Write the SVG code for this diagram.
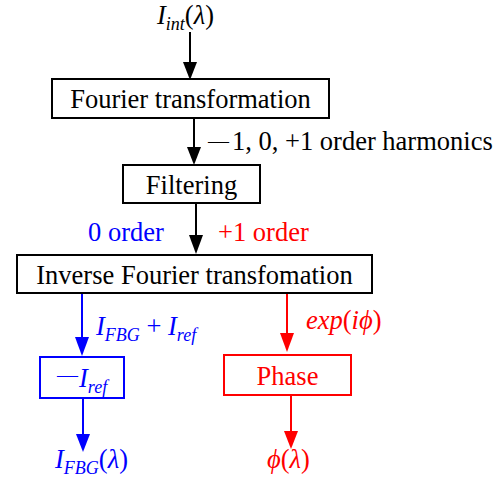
<svg xmlns="http://www.w3.org/2000/svg" width="502" height="479" viewBox="0 0 502 479">
<style>
text{font-family:"Liberation Serif","Times New Roman",serif;font-size:26.5px;}
.i{font-style:italic}
.s{font-size:18px;font-style:italic}
.m{font-size:21px}
.k{fill:none;stroke:#000;stroke-width:2}
.b{fill:none;stroke:#0000ff;stroke-width:2}
.r{fill:none;stroke:#ff0000;stroke-width:2}
.bt{fill:#0000ff}
.rt{fill:#ff0000}
</style>
<rect width="502" height="479" fill="#fff"/>
<g id="connectors">
<line class="k" x1="190" y1="32" x2="190" y2="64"/>
<polygon points="183,62 197,62 190,80"/>
<line class="k" x1="194" y1="118" x2="194" y2="149"/>
<polygon points="187,147 201,147 194,165"/>
<line class="k" x1="196" y1="203" x2="196" y2="237"/>
<polygon points="189,235 203,235 196,254"/>
<line class="b" x1="82" y1="293" x2="82" y2="339"/>
<polygon class="bt" points="75,337 89,337 82,356"/>
<line class="b" x1="83" y1="398" x2="83" y2="436"/>
<polygon class="bt" points="76,434 90,434 83,452"/>
<line class="r" x1="287" y1="293" x2="287" y2="335"/>
<polygon class="rt" points="280,333 294,333 287,352"/>
<line class="r" x1="291" y1="395" x2="291" y2="433"/>
<polygon class="rt" points="284,431 298,431 291,449"/>
</g>
<g id="label-input"><text x="157" y="24"><tspan class="i">I</tspan><tspan class="s" dy="6">int</tspan><tspan dy="-6">(</tspan><tspan class="i">λ</tspan>)</text></g>
<g id="node-fourier">
<rect class="k" x="52" y="79" width="277" height="39"/>
<text x="190.5" y="108" text-anchor="middle">Fourier transformation</text>
</g>
<g id="label-harmonics"><text x="208" y="150"><tspan class="m" dy="-2">—</tspan><tspan dx="3" dy="2">1, 0, +1 order harmonics</tspan></text></g>
<g id="node-filtering">
<rect class="k" x="123" y="165" width="137" height="38"/>
<text x="191.5" y="194" text-anchor="middle">Filtering</text>
</g>
<g id="label-orders">
<text class="bt" x="88" y="241">0 order</text>
<text class="rt" x="218" y="241">+1 order</text>
</g>
<g id="node-inverse">
<rect class="k" x="17" y="255" width="355" height="38"/>
<text x="194.5" y="284" text-anchor="middle">Inverse Fourier transfomation</text>
</g>
<g id="label-sum"><text class="bt" x="96" y="335"><tspan class="i">I</tspan><tspan class="s" dy="6">FBG</tspan><tspan dy="-6"> + </tspan><tspan class="i">I</tspan><tspan class="s" dy="6">ref</tspan></text></g>
<g id="node-minus">
<rect class="b" x="40" y="357" width="84" height="41"/>
<text class="bt" x="57" y="387"><tspan class="m" dy="-5">—</tspan><tspan class="i" dx="1" dy="5">I</tspan><tspan class="s" dy="6">ref</tspan></text>
</g>
<g id="label-ifbg"><text class="bt" x="55" y="468"><tspan class="i">I</tspan><tspan class="s" dy="6">FBG</tspan><tspan dy="-6">(</tspan><tspan class="i">λ</tspan>)</text></g>
<g id="label-exp"><text class="rt" x="306" y="329"><tspan class="i">exp</tspan>(<tspan class="i">iϕ</tspan>)</text></g>
<g id="node-phase">
<rect class="r" x="224" y="355" width="127" height="40"/>
<text class="rt" x="287.5" y="385" text-anchor="middle">Phase</text>
</g>
<g id="label-phi"><text class="rt" x="267" y="468"><tspan class="i">ϕ</tspan>(<tspan class="i">λ</tspan>)</text></g>
</svg>
